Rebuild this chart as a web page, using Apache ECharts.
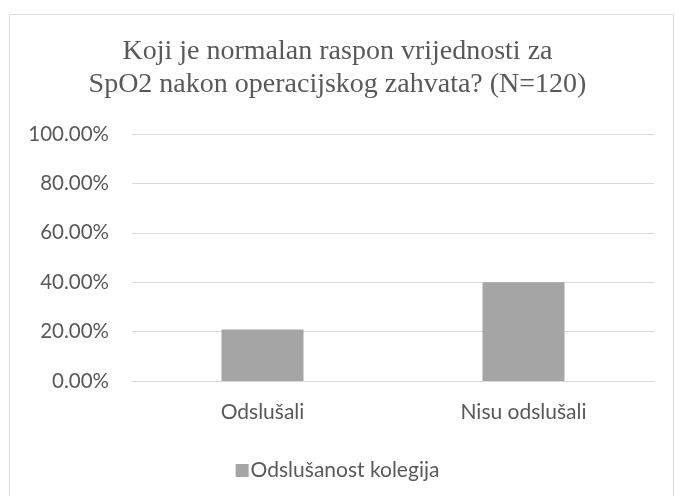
<!DOCTYPE html>
<html>
<head>
<meta charset="utf-8">
<style>
    html, body { margin: 0; padding: 0; background: #ffffff; }
    #chart { width: 675px; height: 496px; }
</style>
<script src="https://cdn.jsdelivr.net/npm/echarts@6/dist/echarts.min.js"></script>
</head>
<body>
<div id="chart"></div>
<script>
const categories = ['Odslušali', 'Nisu odslušali'];
const values = [20.83, 40.0];
const seriesName = 'Odslušanost kolegija';
const titleText = 'Koji je normalan raspon vrijednosti za\nSpO2 nakon operacijskog zahvata? (N=120)';

const textColor = '#595959';
const sansFont = 'Lato, "Open Sans", sans-serif';

const chart = echarts.init(document.getElementById('chart'), null, { renderer: 'canvas' });

chart.setOption({
    animation: false,
    graphic: [{
        type: 'rect',
        left: 7,
        top: 12,
        shape: { width: 664, height: 500 },
        style: { fill: 'none', stroke: '#d9d9d9', lineWidth: 1 },
        silent: true,
    }],
    title: {
        text: titleText,
        left: 'center',
        top: 30,
        textStyle: {
            fontFamily: '"Liberation Serif", "DejaVu Serif", serif',
            fontSize: 28,
            fontWeight: 'normal',
            color: textColor,
            lineHeight: 33,
        },
    },
    grid: {
        left: 132,
        right: 21,
        top: 134,
        bottom: 115,
        containLabel: false,
    },
    legend: {
        top: 455,
        left: 'center',
        icon: 'rect',
        itemWidth: 13,
        itemHeight: 13,
        itemGap: 4,
        textStyle: {
            fontFamily: sansFont,
            fontSize: 21,
            color: textColor,
            padding: [0, 0, 0, -3],
        },
        data: [seriesName],
    },
    xAxis: {
        type: 'category',
        data: categories,
        axisLine: { show: true, lineStyle: { color: '#d9d9d9', width: 1 } },
        axisTick: { show: false },
        axisLabel: {
            color: textColor,
            fontFamily: sansFont,
            fontSize: 21,
            margin: 21,
        },
    },
    yAxis: {
        type: 'value',
        min: 0,
        max: 100,
        interval: 20,
        axisLine: { show: false },
        axisTick: { show: false },
        axisLabel: {
            color: textColor,
            fontFamily: sansFont,
            fontSize: 20.5,
            margin: 23,
            formatter(value) {
                return value.toFixed(2) + '%';
            },
        },
        splitLine: { lineStyle: { color: '#d9d9d9', width: 1 } },
    },
    series: [{
        name: seriesName,
        type: 'bar',
        data: values,
        barWidth: 82,
        itemStyle: { color: '#a5a5a5' },
    }],
});
</script>
</body>
</html>
